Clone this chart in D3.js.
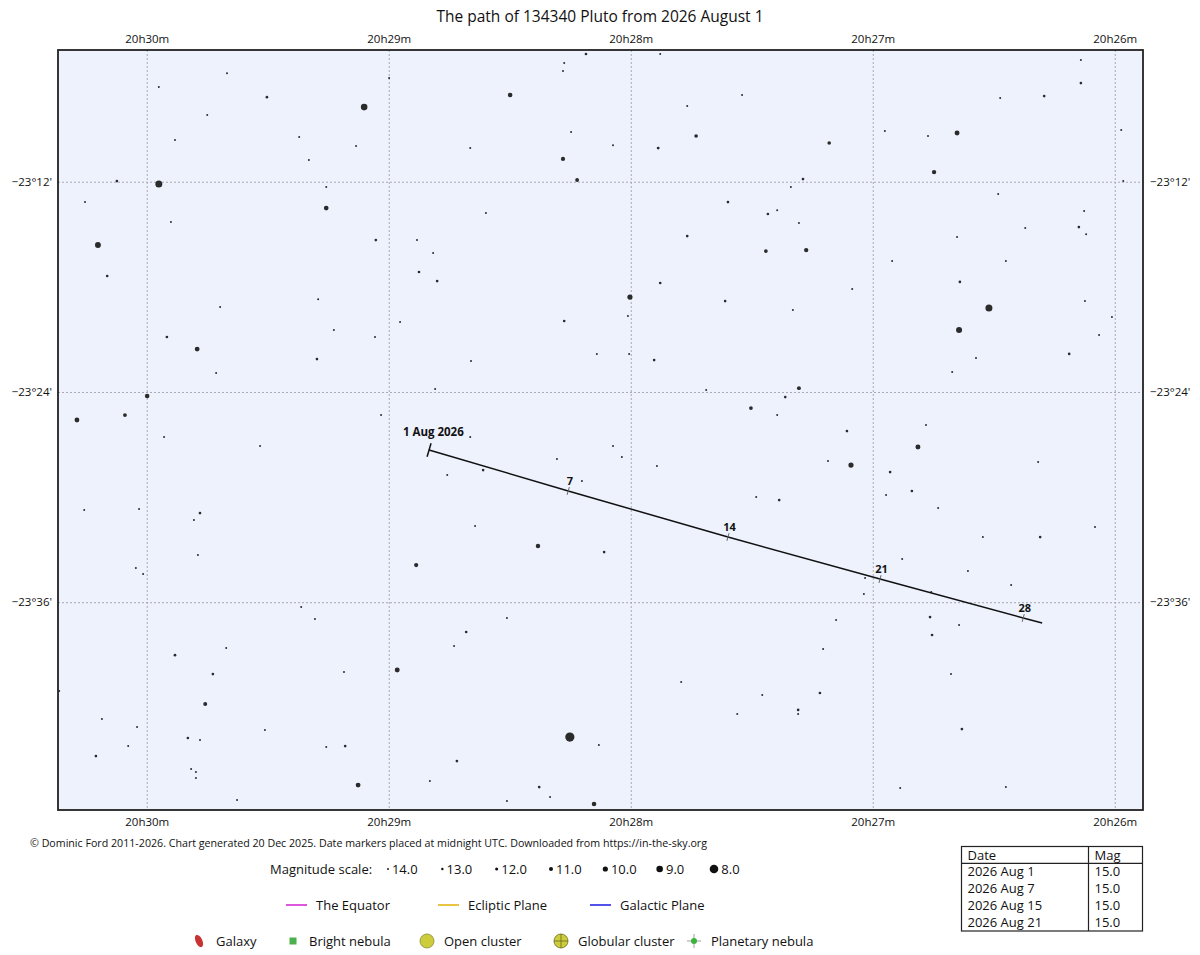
<!DOCTYPE html>
<html>
<head>
<meta charset="utf-8">
<script src="https://cdn.jsdelivr.net/npm/d3@7"></script>
<style>
body { margin: 0; background: #fff; }
svg text { font-family: "Open Sans", "Noto Sans", "DejaVu Sans", sans-serif; fill: #111; }
</style>
</head>
<body>
<div id="chart"></div>
<script>
// RA in seconds of time after 20h00m, Dec in arcminutes south of -23 deg
var raTicks = [1800, 1740, 1680, 1620, 1560];
var raTickLabels = ['20h30m', '20h29m', '20h28m', '20h27m', '20h26m'];
var decTicks = [12, 24, 36];
var decTickLabels = ['\u221223\u00b012\'', '\u221223\u00b024\'', '\u221223\u00b036\''];

var starRa = [1780.1,1739.9,1797.0,1770.2,1746.1,1785.0,1762.2,1793.0,1748.1,1759.8,
  1807.4,1797.0,1755.5,1815.3,1755.5,1794.0,1743.2,1733.0,1812.1,1809.8,
  1732.5,1757.5,1691.1,1672.7,1696.5,1696.8,1709.9,1652.4,1666.0,1663.8,
  1694.8,1684.4,1719.8,1673.2,1696.8,1693.3,1655.9,1715.9,1646.0,1643.7,
  1666.0,1729.0,1646.5,1728.0,1672.7,1680.2,1656.6,1568.4,1568.4,1577.5,
  1588.4,1630.8,1617.0,1606.3,1599.1,1558.4,1604.8,1637.3,1557.9,1640.3,
  1588.9,1638.3,1567.6,1568.9,1567.1,1582.2,1599.1,1636.5,1615.2,1587.0,
  1598.4,1625.1,1567.4,1781.8,1737.2,1795.0,1753.6,1743.4,1787.5,1757.8,
  1782.8,1799.9,1805.4,1817.3,1741.9,1795.7,1771.9,1815.5,1801.9,1786.8,
  1788.3,1787.3,1696.5,1680.7,1719.6,1688.4,1680.4,1674.2,1728.5,1661.3,
  1650.2,1643.7,1719.8,1684.4,1682.2,1698.3,1673.5,1725.5,1716.6,1692.1,
  1648.9,1643.2,1718.6,1703.0,1686.6,1639.8,1591.2,1598.6,1560.7,1563.9,
  1571.3,1594.4,1600.3,1638.3,1641.7,1606.8,1626.4,1608.8,1625.4,1631.1,
  1615.7,1579.0,1610.3,1616.7,1603.8,1564.9,1592.7,1578.5,1612.7,1733.2,
  1802.7,1800.9,1761.7,1758.3,1780.3,1793.0,1783.6,1751.1,1737.9,1821.7,
  1785.5,1811.1,1802.4,1770.7,1789.8,1786.8,1804.6,1812.6,1755.5,1750.8,
  1789.0,1787.8,1787.8,1747.6,1777.6,1710.7,1720.8,1723.8,1667.5,1647.4,
  1653.6,1695.1,1687.9,1723.1,1729.8,1702.7,1700.0,1710.7,1689.1,1596.4,
  1585.7,1621.9,1622.2,1605.5,1629.1,1605.8,1598.6,1605.3,1632.3,1600.6,
  1633.1,1638.5,1638.5,1597.9,1613.2,1587.0];

var starDec = [5.80,6.08,6.59,7.17,7.74,8.19,9.45,9.62,9.96,10.76,
  11.96,12.13,12.30,13.16,13.50,14.30,15.33,15.33,15.61,17.38,
  17.15,18.70,4.71,4.71,5.22,5.68,7.05,7.05,7.68,9.39,
  9.16,9.91,10.08,10.08,10.70,11.90,13.16,13.79,13.84,13.62,
  15.10,16.07,15.96,17.67,17.78,18.58,18.81,5.05,6.37,7.11,
  7.22,9.79,9.11,9.39,9.22,9.05,11.45,11.85,11.96,12.30,
  12.70,14.36,13.67,14.59,14.99,14.64,15.16,15.90,16.53,16.53,
  17.72,18.12,18.81,19.15,20.01,20.86,20.46,20.86,21.55,22.12,
  22.92,24.23,25.32,25.60,25.32,26.57,27.09,30.74,30.68,30.91,
  31.31,33.31,19.95,19.67,22.23,21.83,21.83,22.18,23.83,23.89,
  24.92,25.32,26.57,27.09,27.71,27.83,28.23,28.74,28.46,29.08,
  30.00,30.17,31.65,32.79,33.14,19.32,19.21,20.46,19.72,20.75,
  21.83,22.06,22.86,23.78,24.29,25.89,26.23,27.14,28.17,27.94,
  28.57,28.00,29.65,29.88,30.62,31.71,32.28,32.28,33.54,33.88,
  34.05,34.39,36.28,36.96,38.62,39.02,40.10,39.99,39.87,41.07,
  41.81,42.67,43.12,43.30,43.75,43.87,44.21,44.78,44.27,44.21,
  45.52,45.69,46.04,46.44,47.29,36.90,37.70,38.50,40.56,41.30,
  42.38,43.70,44.15,45.07,46.21,46.55,47.12,47.35,47.52,34.22,
  35.02,34.62,35.53,35.42,37.02,36.85,37.30,37.87,38.67,40.10,
  41.18,42.15,42.38,43.24,46.61,46.55];

var starMag = [13.8,13.8,13.8,12.6,9.0,13.8,13.8,13.8,13.8,13.8,
  12.6,8.8,13.8,13.8,10.4,13.8,12.6,13.8,9.5,12.6,
  12.6,13.8,12.6,13.8,13.8,13.8,10.5,13.8,13.8,11.4,
  13.8,13.8,13.8,12.3,10.8,11.2,12.6,13.8,12.6,13.8,
  12.6,13.8,11.3,12.6,12.6,10.0,12.6,13.8,12.6,12.6,
  13.8,11.4,13.8,13.8,10.2,13.8,10.7,12.6,13.8,13.8,
  13.8,13.8,13.8,12.6,13.8,13.8,13.8,10.7,13.8,13.8,
  12.6,13.8,13.8,13.8,13.8,12.6,13.8,13.8,10.3,12.6,
  13.8,10.5,11.2,10.3,13.8,13.8,13.8,13.8,13.8,12.6,
  13.8,13.8,12.6,13.8,13.8,13.8,13.8,12.6,13.8,13.8,
  11.3,13.8,13.8,13.8,13.8,13.8,13.8,13.8,12.6,13.8,
  13.8,12.6,13.8,10.6,12.6,13.8,8.8,9.4,13.8,13.8,
  12.6,13.8,13.8,11.1,12.6,13.8,12.6,10.2,10.0,13.8,
  12.6,13.8,12.6,13.8,13.8,13.8,13.8,12.6,13.8,10.8,
  13.8,13.8,13.8,13.8,13.8,12.6,12.6,13.8,10.2,13.8,
  11.0,13.8,13.8,13.8,12.6,13.8,13.8,12.6,13.8,12.6,
  13.8,13.8,13.8,10.3,13.8,13.8,12.6,13.8,13.8,13.8,
  13.8,7.7,13.8,12.6,13.8,12.6,13.8,13.8,10.5,13.8,
  13.8,13.8,13.8,13.8,13.8,12.6,13.8,12.6,13.8,13.8,
  12.6,12.6,13.8,12.6,13.8,13.8];

// Pluto positions at the date markers (August 2026) and the end of the track
var pathDay = [1, 7, 14, 21, 28, 29];
var pathRa = [1730.0, 1695.5, 1655.9, 1618.2, 1582.7, 1578.0];
var pathDec = [27.31, 29.65, 32.28, 34.68, 36.90, 37.19];
var pathLabels = ['1 Aug 2026', '7', '14', '21', '28', null];

var magLegend = [14, 13, 12, 11, 10, 9, 8];
var tableDates = ['2026 Aug 1', '2026 Aug 7', '2026 Aug 15', '2026 Aug 21'];
var tableMags = ['15.0', '15.0', '15.0', '15.0'];

var margin = {top: 50, right: 57, bottom: 145, left: 58};
var W = 1200, H = 955;
var width = W - margin.left - margin.right;
var height = H - margin.top - margin.bottom;

var svg = d3.select('#chart').append('svg')
    .attr('width', W)
    .attr('height', H);

svg.append('text')
    .attr('x', 600)
    .attr('y', 22)
    .attr('text-anchor', 'middle')
    .style('font-size', '15.5px')
    .text('The path of 134340 Pluto from 2026 August 1');

var x = d3.scaleLinear().domain([1822.0, 1553.0]).range([0, width]);
var y = d3.scaleLinear().domain([4.48, 47.86]).range([0, height]);
var r = d3.scaleLinear().domain([8, 9, 10, 11, 12, 13, 14]).range([4.3, 3.3, 2.6, 2.0, 1.55, 1.2, 0.95]);

var g = svg.append('g')
    .attr('transform', 'translate(' + margin.left + ',' + margin.top + ')');

g.append('rect')
    .attr('width', width)
    .attr('height', height)
    .attr('fill', '#eef2fd');

// dotted grid
g.append('g')
    .attr('class', 'grid-x')
    .call(d3.axisBottom(x).tickValues(raTicks).tickSize(height).tickFormat(''));
g.append('g')
    .attr('class', 'grid-y')
    .call(d3.axisRight(y).tickValues(decTicks).tickSize(width).tickFormat(''));
g.selectAll('.grid-x .domain, .grid-y .domain').remove();
g.selectAll('.grid-x line, .grid-y line')
    .attr('stroke', '#a8a8b0')
    .attr('stroke-width', 1)
    .attr('stroke-dasharray', '2,2');

// stars
g.append('g').selectAll('circle')
    .data(starRa)
    .enter().append('circle')
    .attr('cx', function(d) { return x(d); })
    .attr('cy', function(d, i) { return y(starDec[i]); })
    .attr('r', function(d, i) { return r(starMag[i]); })
    .attr('fill', '#2b2b2b');

// Pluto track
var pts = pathRa.map(function(d, i) { return [x(d), y(pathDec[i])]; });
g.append('path')
    .datum(pts)
    .attr('d', d3.line())
    .attr('fill', 'none')
    .attr('stroke', '#111')
    .attr('stroke-width', 1.5);

function normal(i) {
    var a = pts[Math.max(i - 1, 0)], b = pts[Math.min(i + 1, pts.length - 1)];
    var dx = b[0] - a[0], dy = b[1] - a[1], len = Math.sqrt(dx * dx + dy * dy);
    return [dy / len, -dx / len];
}

pathLabels.forEach(function(lab, i) {
    if (!lab) return;
    var p = pts[i], n = normal(i);
    var half = i === 0 ? 7 : 4;
    g.append('line')
        .attr('x1', p[0] - n[0] * half).attr('y1', p[1] - n[1] * half)
        .attr('x2', p[0] + n[0] * half).attr('y2', p[1] + n[1] * half)
        .attr('stroke', i === 0 ? '#111' : '#666')
        .attr('stroke-width', i === 0 ? 1.5 : 1);
    var off = i === 0 ? 15 : 6;
    g.append('text')
        .attr('x', p[0] + n[0] * off)
        .attr('y', p[1] + n[1] * off)
        .attr('text-anchor', 'middle')
        .style('font-size', i === 0 ? '11.5px' : '11px')
        .style('font-weight', 'bold')
        .text(lab);
});

g.append('rect')
    .attr('width', width)
    .attr('height', height)
    .attr('fill', 'none')
    .attr('stroke', '#222')
    .attr('stroke-width', 1.8);

// axis labels on all four sides
function labelAxis(axis, cls, tr) {
    var a = g.append('g').attr('class', cls).attr('transform', tr).call(axis);
    a.select('.domain').remove();
    a.selectAll('line').remove();
    a.selectAll('text').style('font-size', '11.5px').attr('fill', '#111');
}
var fmtRa = function(d, i) { return raTickLabels[i]; };
var fmtDec = function(d, i) { return decTickLabels[i]; };
labelAxis(d3.axisTop(x).tickValues(raTicks).tickFormat(fmtRa).tickSize(0).tickPadding(7), 'ax-top', null);
labelAxis(d3.axisBottom(x).tickValues(raTicks).tickFormat(fmtRa).tickSize(0).tickPadding(8), 'ax-bottom', 'translate(0,' + height + ')');
labelAxis(d3.axisLeft(y).tickValues(decTicks).tickFormat(fmtDec).tickSize(0).tickPadding(6), 'ax-left', null);
labelAxis(d3.axisRight(y).tickValues(decTicks).tickFormat(fmtDec).tickSize(0).tickPadding(7), 'ax-right', 'translate(' + width + ',0)');

svg.append('text')
    .attr('x', 30)
    .attr('y', 847)
    .attr('textLength', 677)
    .attr('lengthAdjust', 'spacingAndGlyphs')
    .style('font-size', '11px')
    .text('\u00a9 Dominic Ford 2011-2026. Chart generated 20 Dec 2025. Date markers placed at midnight UTC. Downloaded from https://in-the-sky.org');

// magnitude legend
var legend = svg.append('g').style('font-size', '13px');
legend.append('text').attr('x', 270).attr('y', 873.5).text('Magnitude scale:');
var mx = d3.scalePoint().domain(magLegend).range([388, 714]);
var mItem = legend.selectAll('.mag').data(magLegend).enter().append('g')
    .attr('transform', function(d) { return 'translate(' + mx(d) + ',869)'; });
mItem.append('circle').attr('r', function(d) { return r(d); }).attr('fill', '#111');
mItem.append('text')
    .attr('x', function(d) { return r(d) + 3; })
    .attr('y', 4.5)
    .text(function(d) { return d.toFixed(1); });

// reference lines legend
var lineItems = [
    {x: 286, label: 'The Equator', color: '#d21ed2'},
    {x: 438, label: 'Ecliptic Plane', color: '#e0b000'},
    {x: 590, label: 'Galactic Plane', color: '#1a1ae6'}
];
lineItems.forEach(function(d) {
    legend.append('line')
        .attr('x1', d.x).attr('x2', d.x + 21)
        .attr('y1', 905).attr('y2', 905)
        .attr('stroke', d.color).attr('stroke-width', 1.5);
    legend.append('text').attr('x', d.x + 30).attr('y', 909.5).text(d.label);
});

// deep sky object legend
var oy = 941;
legend.append('ellipse')
    .attr('rx', 3.3).attr('ry', 6.5)
    .attr('transform', 'translate(199,' + oy + ') rotate(-25)')
    .attr('fill', '#c83232');
legend.append('text').attr('x', 216).attr('y', oy + 4.5).text('Galaxy');
legend.append('rect')
    .attr('x', 289.5).attr('y', oy - 3.5).attr('width', 7).attr('height', 7)
    .attr('fill', '#4cb04c');
legend.append('text').attr('x', 309).attr('y', oy + 4.5).text('Bright nebula');
legend.append('circle')
    .attr('cx', 427).attr('cy', oy).attr('r', 7)
    .attr('fill', '#cccc3c').attr('stroke', '#8a8a30').attr('stroke-width', 0.8);
legend.append('text').attr('x', 444).attr('y', oy + 4.5).text('Open cluster');
legend.append('circle')
    .attr('cx', 561).attr('cy', oy).attr('r', 7)
    .attr('fill', '#cccc3c').attr('stroke', '#6a6a20').attr('stroke-width', 0.8);
legend.append('path')
    .attr('d', 'M554,' + oy + 'H568M561,' + (oy - 7) + 'V' + (oy + 7))
    .attr('stroke', '#6a6a20').attr('stroke-width', 0.8);
legend.append('text').attr('x', 578).attr('y', oy + 4.5).text('Globular cluster');
legend.append('path')
    .attr('d', 'M687,' + oy + 'H701M694,' + (oy - 7) + 'V' + (oy + 7))
    .attr('stroke', '#888').attr('stroke-width', 0.8);
legend.append('circle')
    .attr('cx', 694).attr('cy', oy).attr('r', 3)
    .attr('fill', '#3cb43c');
legend.append('text').attr('x', 711).attr('y', oy + 4.5).text('Planetary nebula');

// ephemeris table
var tb = svg.append('g').attr('transform', 'translate(961.5,846.5)').style('font-size', '13px');
var rowH = 16.9;
tb.append('rect')
    .attr('width', 181).attr('height', 84.5)
    .attr('fill', '#fff').attr('stroke', '#222').attr('stroke-width', 1.2);
tb.append('line').attr('x1', 0).attr('x2', 181).attr('y1', rowH).attr('y2', rowH)
    .attr('stroke', '#222').attr('stroke-width', 1.2);
tb.append('line').attr('x1', 127).attr('x2', 127).attr('y1', 0).attr('y2', 84.5)
    .attr('stroke', '#222').attr('stroke-width', 1.2);
tb.append('text').attr('x', 6).attr('y', 13).text('Date');
tb.append('text').attr('x', 133).attr('y', 13).text('Mag');
tb.selectAll('.d').data(tableDates).enter().append('text')
    .attr('x', 6)
    .attr('y', function(d, i) { return 13 + rowH * (i + 1); })
    .text(function(d) { return d; });
tb.selectAll('.m').data(tableMags).enter().append('text')
    .attr('x', 133)
    .attr('y', function(d, i) { return 13 + rowH * (i + 1); })
    .text(function(d) { return d; });
</script>
</body>
</html>
